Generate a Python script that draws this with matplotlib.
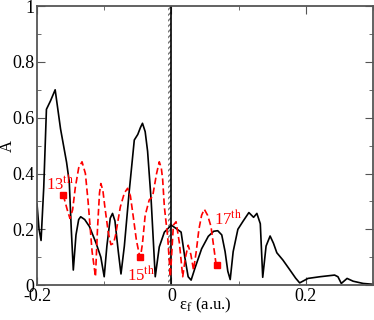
import matplotlib.pyplot as plt
from matplotlib.ticker import MultipleLocator

plt.rcParams['font.family'] = 'serif'
plt.rcParams['font.serif'] = ['Liberation Serif', 'DejaVu Serif']
plt.rcParams['mathtext.fontset'] = 'stix'

# solid black curve
eps_black = [-0.2, -0.197, -0.194, -0.190, -0.186, -0.180, -0.173, -0.169, -0.165,
             -0.156, -0.152, -0.149, -0.146, -0.142, -0.138, -0.135, -0.129, -0.122,
             -0.112, -0.105, -0.100, -0.096, -0.091, -0.0876, -0.084, -0.079, -0.075,
             -0.070, -0.063, -0.0552, -0.050, -0.046, -0.043, -0.039, -0.0354, -0.030,
             -0.024, -0.018, -0.0104, 0.0, 0.0145, 0.020, 0.025, 0.0294, 0.035, 0.045,
             0.055, 0.063, 0.069, 0.075, 0.080, 0.084, 0.0876, 0.092, 0.099, 0.107,
             0.1154, 0.1224, 0.1273, 0.1324, 0.136, 0.141, 0.147, 0.152, 0.157, 0.166,
             0.176, 0.185, 0.191, 0.2034, 0.221, 0.243, 0.248, 0.253, 0.2616, 0.2706,
             0.2855, 0.300]
A_black = [0.29, 0.20, 0.16, 0.35, 0.63, 0.66, 0.70, 0.63, 0.56,
           0.44, 0.37, 0.20, 0.054, 0.18, 0.235, 0.245, 0.235, 0.21,
           0.15, 0.10, 0.03, 0.14, 0.24, 0.257, 0.23, 0.12, 0.04,
           0.14, 0.33, 0.52, 0.54, 0.565, 0.58, 0.55, 0.48, 0.30,
           0.03, 0.137, 0.19, 0.215, 0.19, 0.10, 0.03, 0.018, 0.06, 0.13,
           0.175, 0.193, 0.195, 0.18, 0.12, 0.05, 0.02, 0.12, 0.20, 0.23,
           0.26, 0.243, 0.257, 0.22, 0.028, 0.14, 0.176, 0.15, 0.116, 0.09,
           0.056, 0.025, 0.008, 0.024, 0.03, 0.036, 0.03, 0.006, 0.024, 0.014,
           0.006, 0.003]

# dashed red curve
eps_red = [-0.161, -0.155, -0.151, -0.147, -0.143, -0.138, -0.133, -0.128, -0.124,
           -0.118, -0.113, -0.110, -0.107, -0.105, -0.102, -0.099, -0.094, -0.090,
           -0.086, -0.083, -0.076, -0.070, -0.0652, -0.061, -0.057, -0.052, -0.048,
           -0.046, -0.043, -0.039, -0.033, -0.028, -0.022, -0.018, -0.015, -0.013,
           -0.0104, -0.0055, -0.0015, 0.003, 0.007, 0.012, 0.0169, 0.021, 0.025,
           0.029, 0.033, 0.037, 0.041, 0.045, 0.049, 0.054, 0.059, 0.0667]
A_red = [0.323, 0.27, 0.239, 0.27, 0.35, 0.42, 0.442, 0.40, 0.30,
         0.12, 0.03, 0.20, 0.33, 0.364, 0.34, 0.28, 0.19, 0.145,
         0.15, 0.18, 0.28, 0.33, 0.347, 0.32, 0.25, 0.16, 0.113,
         0.10, 0.15, 0.25, 0.305, 0.317, 0.40, 0.442, 0.42, 0.38,
         0.28, 0.173, 0.03, 0.215, 0.227, 0.15, 0.03, 0.10, 0.143,
         0.11, 0.054, 0.12, 0.20, 0.25, 0.272, 0.25, 0.21, 0.072]

# marked points and their labels
mark_eps = [-0.161, -0.046, 0.068]
mark_A = [0.323, 0.10, 0.072]
mark_labels = ["13$^{\\rm th}$", "15$^{\\rm th}$", "17$^{\\rm th}$"]
label_eps = [-0.187, -0.066, 0.063]
label_A = [0.34, 0.014, 0.215]

fig = plt.figure(figsize=(3.74, 3.2), dpi=100)
ax = fig.add_axes([0.099, 0.109, 0.898, 0.872])

ax.axvspan(-0.0045, 0.0, facecolor='none', edgecolor='#777777', hatch='//////', lw=0)
ax.axvline(0.0, color='black', lw=1.2)

ax.plot(eps_black, A_black, color='black', lw=1.2)
ax.plot(eps_red, A_red, color='red', lw=1.2, dashes=(4, 2))
ax.plot(mark_eps, mark_A, 's', color='red', ms=5, ls='none')
for x, y, s in zip(label_eps, label_A, mark_labels):
    ax.text(x, y, s, color='red', fontsize=12, ha='left', va='baseline')

ax.set_xlim(-0.2, 0.3)
ax.set_ylim(0, 1)
ax.xaxis.set_minor_locator(MultipleLocator(0.1))
ax.yaxis.set_minor_locator(MultipleLocator(0.1))
ax.set_xticks([-0.2, 0, 0.2])
ax.set_xticklabels(["-0.2", "0", "0.2"])
ax.set_yticks([0, 0.2, 0.4, 0.6, 0.8, 1.0])
ax.set_yticklabels(["0", "0.2", "0.4", "0.6", "0.8", "1"])
ax.tick_params(which='both', direction='in', top=True, right=True, labelsize=13,
               color='#555555', pad=2)
ax.tick_params(which='major', length=6)
ax.tick_params(which='minor', length=3)
for sp in ax.spines.values():
    sp.set_color('#555555')
    sp.set_linewidth(1.3)

ax.set_xlabel("ε$_{\\rm f}$ (a.u.)", fontsize=12)
ax.xaxis.set_label_coords(0.5, -0.072, transform=ax.transAxes)
ax.xaxis.label.set_va('center')
ax.set_ylabel("A", fontsize=12)
ax.yaxis.set_label_coords(-0.086, 0.5, transform=ax.transAxes)
ax.yaxis.label.set_va('center')

fig.savefig("out.png", dpi=100)
